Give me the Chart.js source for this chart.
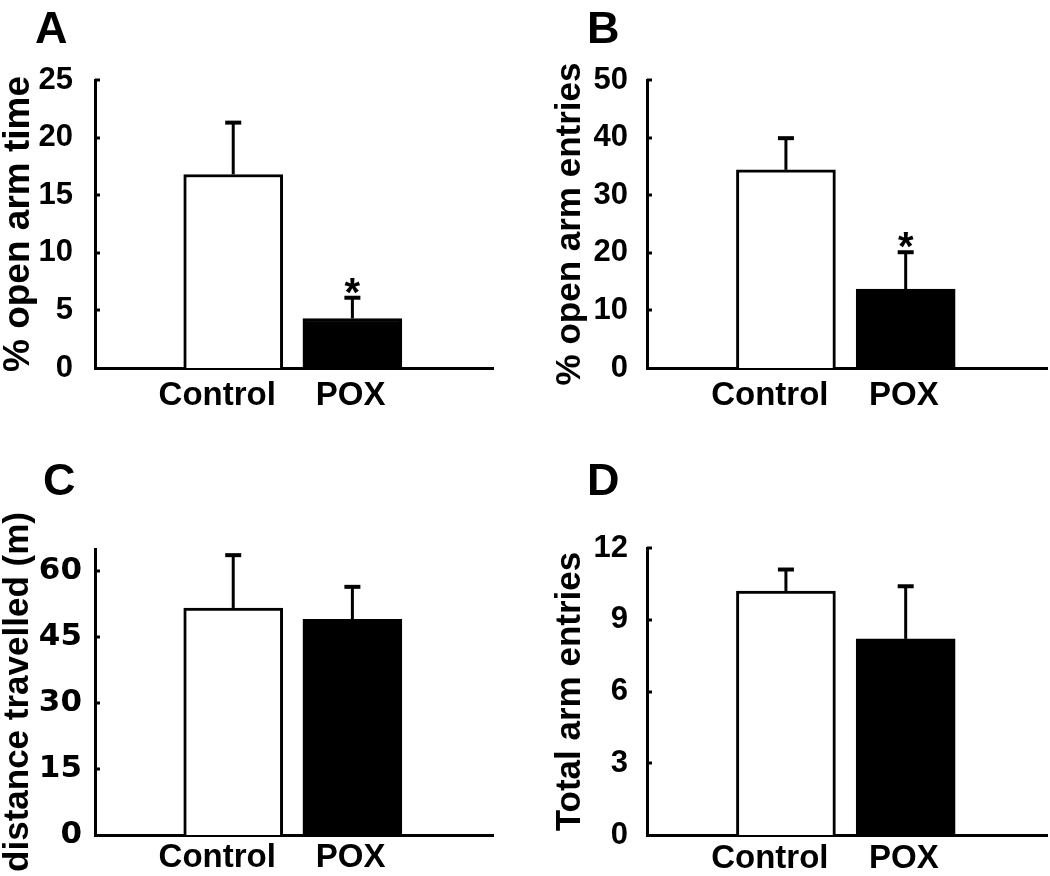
<!DOCTYPE html>
<html><head><meta charset="utf-8">
<script src="https://cdn.jsdelivr.net/npm/chart.js@4.4.1/dist/chart.umd.min.js"></script>
<style>
html,body{margin:0;padding:0;background:#fff;}
#wrap{position:relative;width:1050px;height:876px;overflow:hidden;background:#fff;}
canvas{position:absolute;}
</style></head><body>
<div id="wrap">
<canvas id="cA" width="525" height="438" style="left:0px;top:0px"></canvas>
<canvas id="cB" width="525" height="438" style="left:525px;top:0px"></canvas>
<canvas id="cC" width="525" height="438" style="left:0px;top:438px"></canvas>
<canvas id="cD" width="525" height="438" style="left:525px;top:438px"></canvas>
</div>
<script>
// ---- data ----
const groups = ['Control', 'POX'];
const openTimeMean = [16.8, 4.3];
const openTimeSem = [4.5, 1.8];
const openEntriesMean = [34.4, 13.7];
const openEntriesSem = [5.5, 6.4];
const distanceMean = [51.6, 49.0];
const distanceSem = [12.0, 7.4];
const totalEntriesMean = [10.2, 8.2];
const totalEntriesSem = [0.9, 2.2];
const openTimeTicks = [0, 5, 10, 15, 20, 25];
const openEntriesTicks = [0, 10, 20, 30, 40, 50];
const distanceTicks = [0, 15, 30, 45, 60];
const totalEntriesTicks = [0, 3, 6, 9, 12];
const starsAB = ['', '*'];
const starsCD = ['', ''];

const FAM = '"Liberation Sans", Arial, sans-serif';

const decor = {
  id: 'decor',
  afterDatasetsDraw(chart, args, o) {
    const ctx = chart.ctx, xs = chart.scales.x, ys = chart.scales.y;
    ctx.save();
    ctx.strokeStyle = '#000'; ctx.fillStyle = '#000';
    const ax = chart.chartArea.left;
    ctx.lineWidth = 3;
    o.ticks.forEach(v => {
      if (v === 0) return;
      const py = Math.round(ys.getPixelForValue(v));
      ctx.beginPath(); ctx.moveTo(ax, py); ctx.lineTo(ax + 5, py); ctx.stroke();
    });
    o.mean.forEach((m, i) => {
      const px = xs.getPixelForValue(i + 1);
      const y0 = ys.getPixelForValue(m);
      const y1 = ys.getPixelForValue(m + o.sem[i]);
      ctx.lineWidth = 3;
      ctx.beginPath(); ctx.moveTo(px, y0); ctx.lineTo(px, y1); ctx.stroke();
      ctx.lineWidth = 4;
      ctx.beginPath(); ctx.moveTo(px - 8, y1); ctx.lineTo(px + 8, y1); ctx.stroke();
      if (o.stars[i]) {
        ctx.font = 'bold 40px ' + FAM;
        ctx.textAlign = 'center'; ctx.textBaseline = 'alphabetic';
        ctx.fillText(o.stars[i], px, y1 + 8);
      }
    });
    ctx.font = 'bold 45px ' + FAM;
    ctx.textAlign = 'left'; ctx.textBaseline = 'alphabetic';
    ctx.fillText(o.letter, o.lx, o.ly);
    ctx.restore();
  }
};

function makePanel(id, c) {
  return new Chart(document.getElementById(id), {
    type: 'bar',
    data: {
      datasets: [{
        data: c.mean.map((v, i) => ({ x: i + 1, y: v })),
        backgroundColor: ['#ffffff', '#000000'],
        borderColor: '#000000',
        borderWidth: 3,
        borderSkipped: 'bottom',
        barThickness: 99
      }]
    },
    options: {
      responsive: false,
      animation: false,
      devicePixelRatio: 1,
      layout: { padding: { left: 0, top: c.top, right: c.right, bottom: c.bottom } },
      plugins: {
        legend: { display: false },
        tooltip: { enabled: false },
        decor: { mean: c.mean, sem: c.sem, ticks: c.ticks, stars: c.stars, letter: c.letter, lx: c.lx, ly: c.ly }
      },
      scales: {
        x: {
          type: 'linear', min: -0.16, max: 3.18, offset: false,
          grid: { display: false, drawTicks: false },
          border: { display: true, color: '#000', width: 3 },
          afterBuildTicks: s => { s.ticks = [{ value: 0.866 }, { value: 1.985 }]; },
          afterFit: s => { s.height = c.xH; },
          ticks: {
            autoSkip: false, maxRotation: 0, minRotation: 0, padding: c.labelPad, color: '#000',
            font: { family: FAM, size: 33, weight: 'bold' },
            callback: (v, i) => groups[i]
          }
        },
        y: {
          min: 0, max: c.yMax,
          grid: { display: false, drawTicks: false },
          border: { display: true, color: '#000', width: 3 },
          afterBuildTicks: s => { s.ticks = c.ticks.map(v => ({ value: v })); },
          afterFit: s => { s.width = c.axisW; },
          ticks: { padding: c.tickPad, color: '#000', font: c.tickFont },
          title: {
            display: true, text: c.title, color: '#000',
            font: { family: FAM, size: c.titleSize, weight: 'bold', lineHeight: 1 },
            padding: { top: c.titlePad, bottom: 0 }
          }
        }
      }
    },
    plugins: [decor]
  });
}

const arialTicks = { family: FAM, size: 31, weight: 'bold' };
const wideTicks = { family: '"DejaVu Sans", sans-serif', size: 31, weight: 'bold' };

makePanel('cA', { mean: openTimeMean, sem: openTimeSem, ticks: openTimeTicks, yMax: 25, stars: starsAB,
  title: '% open arm time', titleSize: 37, letter: 'A', lx: 35, ly: 43,
  top: 80, right: 32, bottom: 10, xH: 60, axisW: 95, tickPad: 22, titlePad: 0.5, labelPad: 8, tickFont: arialTicks });
makePanel('cB', { mean: openEntriesMean, sem: openEntriesSem, ticks: openEntriesTicks, yMax: 50, stars: starsAB,
  title: '% open arm entries', titleSize: 35, letter: 'B', lx: 62, ly: 43,
  top: 80, right: 3, bottom: 10, xH: 60, axisW: 122, tickPad: 19, titlePad: 27.5, labelPad: 8, tickFont: arialTicks });
makePanel('cC', { mean: distanceMean, sem: distanceSem, ticks: distanceTicks, yMax: 65, stars: starsCD,
  title: 'distance travelled (m)', titleSize: 35, letter: 'C', lx: 43, ly: 57,
  top: 111, right: 32, bottom: 0, xH: 41, axisW: 95, tickPad: 13, titlePad: 0.5, labelPad: 3, tickFont: wideTicks });
makePanel('cD', { mean: totalEntriesMean, sem: totalEntriesSem, ticks: totalEntriesTicks, yMax: 12, stars: starsCD,
  title: 'Total arm entries', titleSize: 35, letter: 'D', lx: 62, ly: 57,
  top: 110, right: 3, bottom: 0, xH: 41, axisW: 122, tickPad: 19, titlePad: 27.5, labelPad: 4, tickFont: arialTicks });
</script>
</body></html>
